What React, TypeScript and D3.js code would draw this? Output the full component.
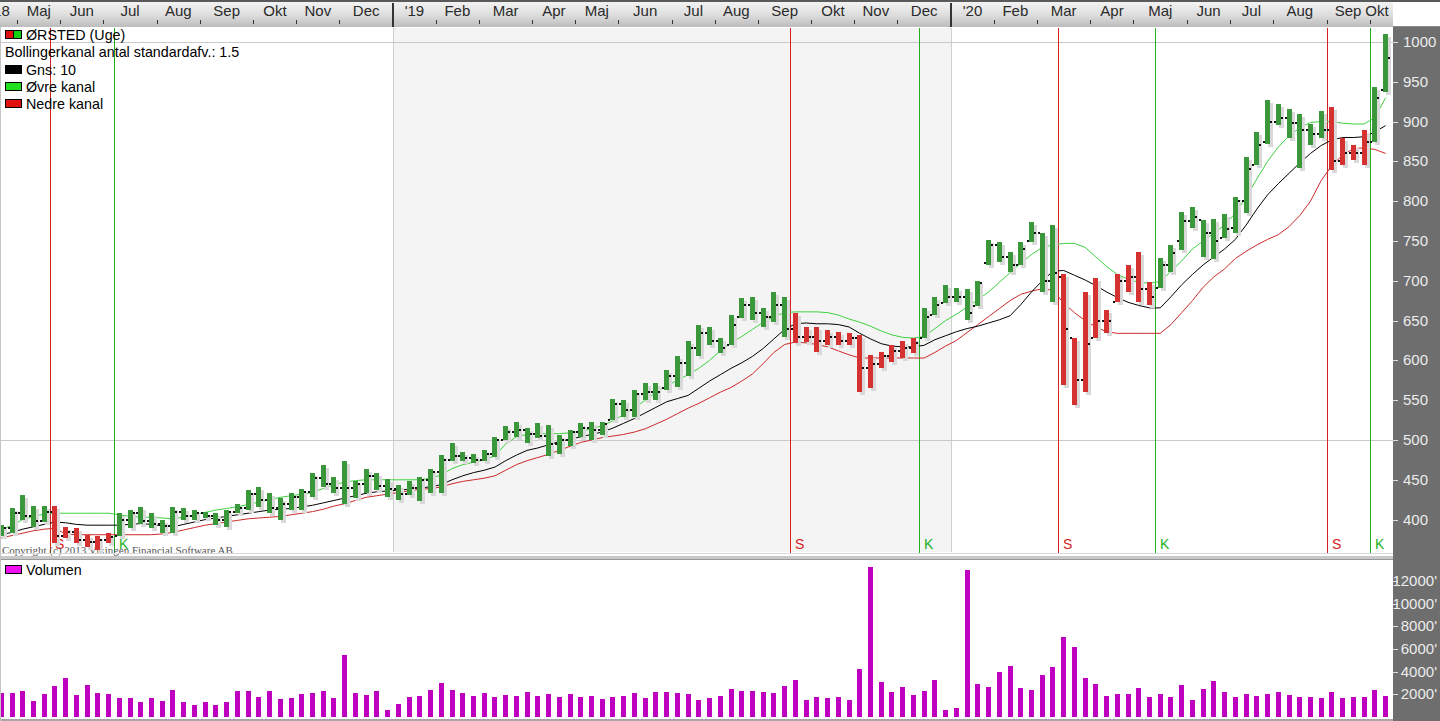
import React from "react";
import * as d3 from "d3";

// ---------- DATA ----------
const firstWeek = new Date(2018, 3, 22); // weekly bars, Sunday-dated
const monthNames = ["Jan", "Feb", "Mar", "Apr", "Maj", "Jun", "Jul", "Aug", "Sep", "Okt", "Nov", "Dec"];

const high = [
  393, 414, 431, 417, 417, 417, 391, 389, 381, 379,
  383, 408, 412, 416, 408, 400, 416, 414, 412, 410,
  408, 412, 420, 437, 441, 433, 427, 433, 439, 458,
  469, 454, 473, 448, 464, 459, 451, 443, 448, 454,
  464, 481, 496, 485, 483, 487, 504, 517, 523, 515,
  521, 519, 506, 513, 521, 523, 523, 552, 550, 563,
  571, 571, 588, 605, 625, 644, 642, 628, 657, 678,
  680, 666, 686, 680, 659, 642, 642, 638, 636, 634,
  632, 607, 611, 619, 625, 628, 666, 680, 695, 691,
  690, 700, 751, 749, 736, 749, 774, 760, 770, 709,
  628, 686, 703, 663, 709, 720, 736, 698, 729, 745,
  786, 793, 776, 778, 784, 805, 855, 887, 927, 922,
  916, 910, 897, 913, 918, 879, 871, 889, 943, 1010,
];
const low = [
  379, 383, 400, 391, 397, 370, 377, 370, 366, 362,
  370, 379, 389, 395, 389, 383, 383, 400, 400, 402,
  393, 391, 408, 412, 416, 408, 400, 412, 412, 429,
  441, 433, 420, 427, 433, 437, 429, 425, 431, 423,
  433, 433, 473, 473, 471, 473, 479, 500, 504, 496,
  502, 480, 483, 492, 504, 500, 506, 525, 529, 529,
  550, 550, 563, 567, 580, 606, 619, 609, 619, 653,
  651, 642, 648, 629, 622, 623, 610, 619, 619, 619,
  560, 565, 590, 598, 603, 609, 628, 657, 672, 673,
  651, 668, 720, 724, 711, 720, 749, 686, 673, 569,
  544, 560, 628, 635, 673, 686, 673, 669, 691, 711,
  739, 766, 730, 727, 754, 760, 785, 846, 872, 896,
  880, 842, 870, 880, 839, 846, 852, 846, 874, 937,
];
const open = [
  385, 390, 408, 405, 398, 410, 380, 385, 375, 372,
  374, 380, 400, 408, 398, 395, 392, 410, 405, 408,
  405, 400, 410, 415, 432, 425, 415, 420, 428, 435,
  452, 445, 440, 440, 445, 455, 442, 438, 432, 440,
  450, 460, 475, 480, 478, 475, 483, 500, 510, 512,
  508, 505, 495, 500, 510, 515, 512, 525, 545, 538,
  558, 560, 565, 580, 597, 615, 635, 625, 619, 655,
  670, 660, 655, 670, 640, 630, 630, 625, 630, 625,
  628, 590, 595, 605, 612, 615, 628, 657, 672, 680,
  680, 668, 722, 745, 730, 720, 750, 760, 700, 705,
  628, 575, 628, 650, 673, 700, 705, 690, 691, 720,
  750, 775, 776, 760, 754, 766, 800, 846, 874, 900,
  905, 898, 890, 885, 890, 850, 860, 860, 875, 940,
];
const close = [
  390, 408, 405, 398, 410, 380, 385, 375, 372, 374,
  378, 400, 408, 398, 395, 392, 410, 405, 408, 405,
  400, 410, 415, 432, 425, 415, 420, 428, 435, 452,
  445, 440, 440, 445, 455, 442, 438, 432, 440, 450,
  460, 475, 480, 478, 475, 483, 500, 510, 512, 508,
  505, 495, 500, 510, 515, 512, 520, 545, 538, 558,
  560, 560, 580, 597, 615, 635, 625, 615, 645, 670,
  660, 655, 670, 640, 630, 630, 625, 630, 625, 628,
  590, 595, 605, 612, 615, 622, 655, 670, 680, 680,
  660, 697, 745, 730, 720, 740, 760, 700, 710, 640,
  575, 620, 650, 650, 700, 705, 690, 680, 720, 735,
  775, 780, 760, 750, 765, 800, 840, 870, 900, 905,
  898, 890, 885, 890, 850, 860, 860, 875, 930, 980,
];
const middleBand = [
  381, 384, 388, 391, 394, 397, 396, 394, 393, 393,
  393, 393, 394, 395, 394, 392, 391, 394, 397, 400,
  402, 404, 406, 408, 410, 412, 413, 414, 416, 418,
  421, 424, 427, 430, 433, 435, 436, 437, 438, 440,
  441, 444, 450, 455, 459, 462, 466, 474, 481, 487,
  490, 494, 498, 501, 504, 507, 510, 515, 521, 527,
  534, 541, 548, 552, 556, 565, 574, 582, 590, 597,
  605, 615, 627, 639, 646, 647, 646, 646, 645, 642,
  634, 627, 621, 618, 617, 617, 619, 626, 631, 636,
  640, 643, 647, 651, 656, 670, 686, 700, 712, 713,
  707, 701, 694, 686, 679, 673, 669, 666, 666, 680,
  695, 708, 720, 730, 740, 752, 770, 790, 808, 822,
  835, 848, 860, 870, 877, 880, 880, 881, 887, 895,
];
const upperBand = [
  387, 393, 400, 404, 407, 408, 408, 408, 408, 408,
  408, 406, 404, 403, 403, 402, 401, 403, 406, 409,
  412, 414, 416, 419, 422, 425, 428, 430, 432, 434,
  439, 444, 447, 449, 450, 450, 450, 450, 450, 450,
  452, 456, 464, 469, 472, 475, 480, 495, 504, 507,
  508, 508, 508, 509, 511, 514, 518, 524, 532, 540,
  550, 560, 568, 575, 582, 590, 600, 612, 622, 630,
  639, 648, 655, 660, 661, 661, 661, 660, 657, 652,
  648, 643, 637, 632, 629, 628, 630, 640, 650, 658,
  667, 676, 686, 698, 710, 722, 733, 742, 745, 747,
  747, 742, 730, 718, 708, 702, 698, 697, 699, 712,
  725, 740, 750, 760, 770, 785, 805, 828, 850, 868,
  882, 892, 899, 900, 900, 898, 897, 897, 905, 930,
];
const lowerBand = [
  377, 380, 383, 386, 388, 389, 382, 381, 381, 381,
  381, 381, 381, 381, 381, 382, 384, 387, 390, 393,
  395, 397, 399, 401, 402, 403, 404, 406, 408, 410,
  413, 417, 420, 424, 428, 430, 432, 434, 436, 438,
  439, 441, 445, 448, 450, 452, 455, 462, 469, 474,
  478, 482, 487, 492, 497, 500, 503, 505, 507, 510,
  514, 520, 526, 533, 540, 546, 553, 560, 566, 574,
  583, 596, 610, 620, 623, 622, 620, 617, 612, 607,
  603, 603, 603, 603, 603, 603, 603, 610, 618, 625,
  635, 645, 655, 665, 675, 683, 687, 690, 688, 672,
  660, 650, 642, 636, 634, 634, 634, 634, 634, 645,
  660, 675, 692, 705, 715, 728, 737, 745, 752, 758,
  768, 782, 800, 826, 845, 858, 866, 867, 865, 860,
];
const volume = [
  2150, 2150, 2270, 1415, 2035, 2740, 3450, 1920, 2860, 2150,
  2035, 1680, 1680, 1300, 1680, 1415, 2390, 1300, 1060, 1300,
  1060, 1300, 2270, 2270, 1800, 2270, 1565, 1680, 2035, 2150,
  2270, 1680, 5460, 2150, 1920, 2270, 590, 1180, 1770, 1860,
  2390, 3000, 2390, 2120, 1860, 2120, 1770, 1950, 1860, 2210,
  1860, 2040, 1770, 2040, 1770, 1860, 1590, 1770, 1860, 2120,
  1680, 2210, 2210, 2120, 2040, 1500, 1680, 1860, 2480, 2300,
  2300, 2210, 2120, 2740, 3270, 1500, 1770, 1680, 1770, 1500,
  4250, 13270, 3100, 2210, 2650, 1950, 2300, 3270, 620, 800,
  13000, 2920, 2650, 3980, 4510, 2570, 2390, 3720, 4430, 7080,
  6200, 3450, 2920, 1860, 2040, 2040, 2570, 1770, 2040, 1770,
  2830, 1500, 2480, 3190, 2210, 1770, 2040, 1860, 2040, 2210,
  1950, 1770, 1770, 1680, 2210, 1680, 1770, 1770, 2390, 1860,
];
const signals = [
  { index: 5, type: "S" },
  { index: 11, type: "K" },
  { index: 74, type: "S" },
  { index: 86, type: "K" },
  { index: 99, type: "S" },
  { index: 108, type: "K" },
  { index: 124, type: "S" },
  { index: 128, type: "K" },
];
const priceTicks = [400, 450, 500, 550, 600, 650, 700, 750, 800, 850, 900, 950, 1000];
const priceGrid = [500, 1000];
const volumeTicks = [2000, 4000, 6000, 8000, 10000, 12000];

// ---------- LAYOUT ----------
const W = 1440;
const H = 721;
const PLOT_R = 1393;
const HEAD_H = 27;
const P_TOP = 28;
const P_BOT = 553;
const V_BOT = 719;
const FONT = "'Liberation Sans', Arial, sans-serif";
const GREEN = "#3a983a";
const RED = "#d63131";
const SIG_GREEN = "#22b022";
const SIG_RED = "#d42020";

export default function App() {
  const N = high.length;
  const weeks = d3.timeWeek.range(firstWeek, d3.timeWeek.offset(firstWeek, N));
  const x = d3.scaleLinear().domain([0, N - 1]).range([1.3, 1.3 + 10.731 * (N - 1)]);
  const y = d3.scaleLinear().domain([500, 1000]).range([440, 42]);
  const v = d3.scaleLinear().domain([0, 12000]).range([717, 581]);
  const step = x(1) - x(0);

  type Seg = { start: number; end: number; date: Date };
  const segs: Seg[] = [];
  weeks.forEach((d, i) => {
    if (i === 0 || d.getMonth() !== weeks[i - 1].getMonth()) segs.push({ start: i, end: i, date: d });
    else segs[segs.length - 1].end = i;
  });

  const state: string[] = [];
  let cur = "K";
  for (let i = 0; i < N; i++) {
    const s = signals.find((q) => q.index === i);
    if (s) cur = s.type;
    state.push(cur);
  }

  const line = (arr: number[]) =>
    d3.line<number>().x((_, i) => x(i)).y((d) => y(d))(arr) || "";

  const idx = d3.range(N);
  const year2019 = segs.find((s) => s.date.getFullYear() === 2019 && s.date.getMonth() === 0)!;
  const year2020 = segs.find((s) => s.date.getFullYear() === 2020 && s.date.getMonth() === 0)!;
  const shadeX0 = Math.round(x(year2019.start) - step / 2);
  const shadeX1 = Math.round(x(year2020.start) - step / 2);

  return (
    <div style={{ position: "fixed", left: 0, top: 0, width: W, height: H, overflow: "hidden", background: "#fff" }}>
      <svg width={W} height={H} style={{ display: "block", fontFamily: FONT }}>
        <defs>
          <linearGradient id="hdr" x1="0" y1="0" x2="0" y2="1">
            <stop offset="0" stopColor="#f6f6f6" />
            <stop offset="0.55" stopColor="#dedede" />
            <stop offset="1" stopColor="#bcbcbc" />
          </linearGradient>
          <clipPath id="pclip">
            <rect x={0} y={P_TOP} width={PLOT_R} height={P_BOT - P_TOP} />
          </clipPath>
          <clipPath id="hclip">
            <rect x={0} y={0} width={PLOT_R} height={HEAD_H} />
          </clipPath>
        </defs>

        <rect x={0} y={0} width={W} height={H} fill="#fff" />

        {/* 2019 shading */}
        <rect x={shadeX0} y={P_TOP} width={shadeX1 - shadeX0} height={P_BOT - P_TOP - 1} fill="#f4f4f4" />
        <rect x={shadeX0} y={P_TOP} width={1} height={P_BOT - P_TOP - 1} fill="#cfcfcf" />
        <rect x={shadeX1} y={P_TOP} width={1} height={P_BOT - P_TOP - 1} fill="#cfcfcf" />

        {/* grid */}
        {priceGrid.map((p) => (
          <rect key={p} x={0} y={Math.round(y(p))} width={PLOT_R} height={1} fill="#c9c9c9" />
        ))}

        {/* signal lines */}
        {signals.map((s) => {
          const sx = Math.round(x(s.index) - step / 2);
          const col = s.type === "S" ? SIG_RED : SIG_GREEN;
          return (
            <g key={s.index}>
              <rect x={sx} y={P_TOP} width={1} height={P_BOT - P_TOP} fill={col} />
              <text x={sx + 5} y={549} fontSize={14} fill={col}>{s.type}</text>
            </g>
          );
        })}

        {/* copyright */}
        <text x={2} y={554} fontSize={11} fill="#555" fontFamily="'Liberation Serif', 'DejaVu Serif', serif">
          Copyright (c) 2013 Vikingen Financial Software AB
        </text>

        <g clipPath="url(#pclip)">
          <path d={line(lowerBand)} fill="none" stroke="#cc2a2a" strokeWidth={1} />
          <path d={line(upperBand)} fill="none" stroke="#3fd03f" strokeWidth={1} />
          <path d={line(middleBand)} fill="none" stroke="#000" strokeWidth={1} />

          {idx.map((i) => (
            <rect key={"s" + i} x={Math.round(x(i) - 2.5) + 3} y={y(high[i]) + 3} width={5}
              height={Math.max(2, y(low[i]) - y(high[i]))} fill="#d9d9d9" shapeRendering="crispEdges" />
          ))}
          {idx.map((i) => {
            const bx = Math.round(x(i) - 2.5);
            const col = state[i] === "S" ? RED : GREEN;
            return (
              <g key={"b" + i} shapeRendering="crispEdges">
                <rect x={bx} y={y(high[i])} width={5} height={Math.max(2, y(low[i]) - y(high[i]))} fill={col} />
                <rect x={bx - 2} y={y(open[i]) - 1} width={2} height={2} fill="#111" />
                <rect x={bx + 5} y={y(close[i]) - 1} width={2} height={2} fill="#111" />
              </g>
            );
          })}
        </g>

        {/* legend */}
        <g fontSize={14.3} fill="#000">
          <rect x={5.5} y={30.5} width={8} height={8} fill="#e01010" stroke="#000" />
          <rect x={13.5} y={30.5} width={8} height={8} fill="#10d010" stroke="#000" />
          <text x={26} y={40}>ØRSTED (Uge)</text>
          <text x={5} y={57}>Bollingerkanal antal standardafv.: 1.5</text>
          <rect x={5.5} y={65.5} width={16} height={8} fill="#000" stroke="#000" />
          <text x={26} y={75}>Gns: 10</text>
          <rect x={5.5} y={82.5} width={16} height={8} fill="#20e020" stroke="#000" />
          <text x={26} y={92}>Øvre kanal</text>
          <rect x={5.5} y={99.5} width={16} height={8} fill="#e01010" stroke="#000" />
          <text x={26} y={109}>Nedre kanal</text>
        </g>

        {/* separator */}
        <rect x={0} y={P_BOT} width={PLOT_R} height={1} fill="#d8d8d8" />
        <rect x={0} y={556} width={PLOT_R} height={3} fill="#c8c8c8" />
        <rect x={0} y={559} width={PLOT_R} height={1} fill="#999" />

        {/* volume */}
        <rect x={5.5} y={565.5} width={16} height={8} fill="#f010f0" stroke="#000" />
        <text x={26} y={575} fontSize={14.3}>Volumen</text>
        {idx.map((i) => (
          <rect key={"v" + i} x={Math.round(x(i) - 2.5)} y={v(volume[i])} width={5} height={v(0) - v(volume[i])}
            fill="#c000c0" shapeRendering="crispEdges" />
        ))}
        <rect x={0} y={V_BOT} width={PLOT_R} height={H - V_BOT} fill="#a8a8a8" />
        <rect x={0} y={HEAD_H} width={1} height={H - HEAD_H} fill="#c4c4c4" />

        {/* header */}
        <rect x={0} y={0} width={PLOT_R} height={HEAD_H} fill="url(#hdr)" />
        <rect x={0} y={0} width={W} height={2} fill="#5a5a5a" />
        <g clipPath="url(#hclip)" fontSize={15} fill="#2a2a2a">
          {segs.map((s, k) => {
            const isJan = s.date.getMonth() === 0;
            const label = k === 0 || isJan ? "'" + String(s.date.getFullYear()).slice(2) : monthNames[s.date.getMonth()];
            let cx = (x(s.start) + x(s.end)) / 2;
            if (k === 0) cx = 0;
            if (k === segs.length - 1) cx = Math.min(cx, 1377);
            const tx = x(s.start) - step / 2;
            return (
              <g key={k}>
                <text x={cx} y={16} textAnchor="middle">{label}</text>
                {k > 0 && (isJan ? (
                  <rect x={Math.round(tx) - 1} y={3} width={2} height={HEAD_H - 3} fill="#333" />
                ) : (
                  <rect x={Math.round(tx)} y={20} width={1} height={4} fill="#333" />
                ))}
              </g>
            );
          })}
        </g>
        <rect x={PLOT_R} y={2} width={W - PLOT_R} height={HEAD_H - 3} fill="#fff" />
        <rect x={PLOT_R} y={HEAD_H - 1} width={W - PLOT_R} height={1} fill="#888" />

        {/* right axis */}
        <rect x={PLOT_R} y={HEAD_H} width={W - PLOT_R} height={H - HEAD_H} fill="#6e6e6e" />
        <g fontSize={15} fill="#ececec">
          {priceTicks.map((p) => (
            <g key={p}>
              <rect x={PLOT_R} y={Math.round(y(p))} width={5} height={1} fill="#e0e0e0" />
              <text x={1403} y={y(p) + 5}>{p}</text>
            </g>
          ))}
          {volumeTicks.map((t) => (
            <g key={t}>
              <rect x={PLOT_R} y={Math.round(v(t))} width={5} height={1} fill="#e0e0e0" />
              <text x={1437} y={v(t) + 5} textAnchor="end">{t + "'"}</text>
            </g>
          ))}
        </g>
      </svg>
    </div>
  );
}
